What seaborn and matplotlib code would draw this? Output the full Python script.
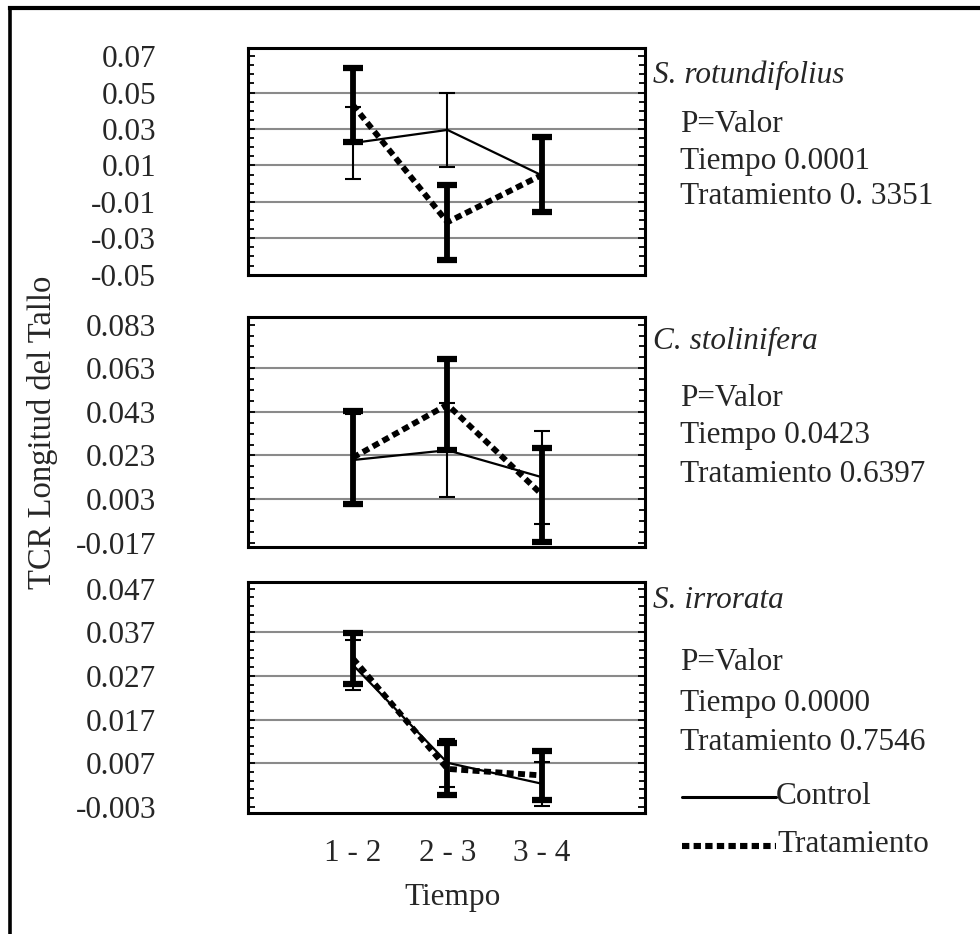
import numpy as np
import pandas as pd
import matplotlib
matplotlib.use("Agg")
import matplotlib.pyplot as plt
from matplotlib.ticker import FixedLocator, MultipleLocator
from matplotlib.lines import Line2D
import seaborn as sns

# ---- data -------------------------------------------------------------
periods = ["1 - 2", "2 - 3", "3 - 4"]
species = ["S. rotundifolius", "C. stolinifera", "S. irrorata"]

control_mean = [
    [0.0223, 0.0295, 0.0045],
    [0.0209, 0.0254, 0.0130],
    [0.0295, 0.0071, 0.0023],
]
control_err = [
    [0.0200, 0.0205, 0.0200],
    [0.0212, 0.0216, 0.0214],
    [0.0058, 0.0055, 0.0050],
]
trat_mean = [
    [0.0432, -0.0212, 0.0048],
    [0.0220, 0.0463, 0.0050],
    [0.0310, 0.0057, 0.0042],
]
trat_err = [
    [0.0205, 0.0206, 0.0206],
    [0.0212, 0.0210, 0.0216],
    [0.0059, 0.0060, 0.0056],
]

tick_values = [
    [0.07, 0.05, 0.03, 0.01, -0.01, -0.03, -0.05],
    [0.083, 0.063, 0.043, 0.023, 0.003, -0.017],
    [0.047, 0.037, 0.027, 0.017, 0.007, -0.003],
]
tick_labels = [
    ["0.07", "0.05", "0.03", "0.01", "-0.01", "-0.03", "-0.05"],
    ["0.083", "0.063", "0.043", "0.023", "0.003", "-0.017"],
    ["0.047", "0.037", "0.027", "0.017", "0.007", "-0.003"],
]
y_limits = [(-0.0502, 0.0745), (-0.019, 0.0865), (-0.0044, 0.0485)]
minor_step = [0.005, 0.005, 0.002]
minor_offset = [0.0, 0.003, 0.001]

p_tiempo = ["Tiempo 0.0001", "Tiempo 0.0423", "Tiempo 0.0000"]
p_trat = ["Tratamiento 0. 3351", "Tratamiento 0.6397", "Tratamiento 0.7546"]

# ---- style ------------------------------------------------------------
sns.set_theme(style="white")
plt.rcParams["font.family"] = ["Liberation Serif", "DejaVu Serif"]
FS = 22.5

W, H = 980, 934
fig = plt.figure(figsize=(W / 100, H / 100), dpi=100)
fig.patch.set_facecolor("white")

def fx(px):
    return px / W

def fy(py):
    return 1 - py / H

# panel boxes in pixel rows (top, bottom)
rows = [(48, 275), (317, 547), (582, 813)]
left_px, right_px = 248, 645

dot_style = (0, (1.2, 0.75))
x_pos = np.arange(len(periods))

for i, (top, bot) in enumerate(rows):
    ax = fig.add_axes([fx(left_px), fy(bot), fx(right_px - left_px), (bot - top) / H])
    ax.set_facecolor("white")

    df = pd.DataFrame({
        "x": np.concatenate([x_pos, x_pos]),
        "y": control_mean[i] + trat_mean[i],
        "grupo": ["Control"] * 3 + ["Tratamiento"] * 3,
    })

    # horizontal grid at interior ticks
    for v in tick_values[i][1:-1]:
        ax.axhline(v, color="#8a8a8a", lw=1.5, zorder=0.5)

    # error bars
    ax.errorbar(x_pos, trat_mean[i], yerr=trat_err[i], fmt="none", ecolor="black",
                elinewidth=4.2, capsize=7, capthick=4.5, zorder=3)
    ax.errorbar(x_pos, control_mean[i], yerr=control_err[i], fmt="none", ecolor="black",
                elinewidth=1.5, capsize=6.0, capthick=1.5, zorder=3.5)

    # mean lines
    sns.lineplot(data=df[df.grupo == "Control"], x="x", y="y", ax=ax, color="black",
                 lw=1.6, errorbar=None, zorder=4, legend=False)
    sns.lineplot(data=df[df.grupo == "Tratamiento"], x="x", y="y", ax=ax, color="black",
                 lw=4.2, linestyle=dot_style, errorbar=None, zorder=4, legend=False)

    ax.set_xlim(-1.11, 3.09)
    ax.set_ylim(*y_limits[i])
    ax.set_xlabel("")
    ax.set_ylabel("")

    ax.yaxis.set_major_locator(FixedLocator(tick_values[i]))
    ax.set_yticklabels(tick_labels[i], fontsize=FS)
    ax.yaxis.set_minor_locator(MultipleLocator(minor_step[i], offset=minor_offset[i]))
    ax.tick_params(axis="y", which="both", direction="in", left=True, right=True,
                   length=4, width=1.3, color="black", pad=66)
    ax.tick_params(axis="y", which="major", length=5)

    ax.set_xticks(x_pos)
    if i == 2:
        ax.set_xticklabels(periods, fontsize=FS)
        ax.tick_params(axis="x", length=0, pad=19)
    else:
        ax.set_xticklabels([])
        ax.tick_params(axis="x", length=0)

    for s in ax.spines.values():
        s.set_visible(True)
        s.set_color("black")
        s.set_linewidth(2.2)

# species names and p-values
species_y = [75, 341, 600]
pval_y = [(125, 161, 197), (398, 436, 475), (663, 703, 742)]
for i in range(3):
    fig.text(fx(653), fy(species_y[i]), species[i], fontsize=FS, style="italic",
             ha="left", va="center")
    fig.text(fx(680), fy(pval_y[i][0]), "P=Valor", fontsize=FS, ha="left", va="center")
    fig.text(fx(680), fy(pval_y[i][1]), p_tiempo[i], fontsize=FS, ha="left", va="center")
    fig.text(fx(680), fy(pval_y[i][2]), p_trat[i], fontsize=FS, ha="left", va="center")

# legend drawn as figure lines with labels
fig.add_artist(Line2D([fx(682), fx(776)], [fy(797), fy(797)], color="black", lw=2.2,
                      transform=fig.transFigure))
fig.text(fx(776), fy(797), "Control", fontsize=FS, ha="left", va="center")
fig.add_artist(Line2D([fx(682), fx(776)], [fy(846), fy(846)], color="black", lw=4.4,
                      linestyle=(0, (1.2, 0.7)), transform=fig.transFigure))
fig.text(fx(777), fy(845), "Tratamiento", fontsize=FS, ha="left", va="center")

# axis titles
fig.text(fx(43), fy(432), "TCR Longitud del Tallo", fontsize=23.5, rotation=90,
         ha="center", va="center")
fig.text(fx(452), fy(897), "Tiempo", fontsize=FS, ha="center", va="center")

# outer frame (top and left edges)
fig.add_artist(Line2D([fx(10), 1.0], [fy(8), fy(8)], color="black", lw=3,
                      transform=fig.transFigure, solid_capstyle="projecting"))
fig.add_artist(Line2D([fx(10), fx(10)], [fy(8), 0.0], color="black", lw=2.6,
                      transform=fig.transFigure, solid_capstyle="projecting"))

fig.savefig("out.png", dpi=100, facecolor="white")
